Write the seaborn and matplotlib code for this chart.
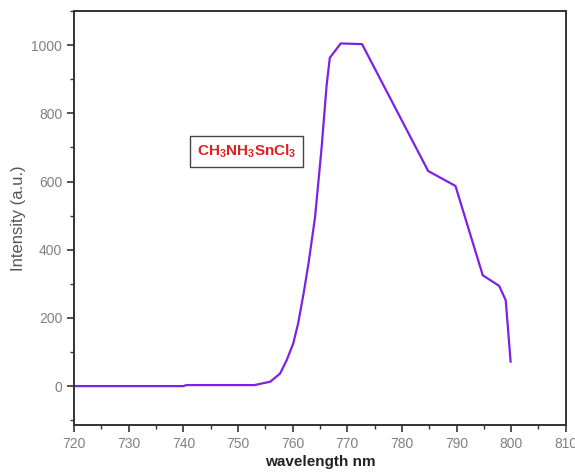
import pandas as pd
import matplotlib.pyplot as plt
import seaborn as sns
from matplotlib.ticker import MultipleLocator

# emission spectrum
wavelength = [720, 730, 740, 740.5, 753, 755.9, 757.7, 758.9, 760.1, 761.0, 762.0,
              762.9, 764.1, 765.3, 766.2, 766.8, 768.8, 772.7, 784.8, 789.8, 794.8,
              797.8, 799.0, 799.9]
intensity = [0, 0, 0, 3, 3, 13, 37, 76, 125, 184, 272,
             360, 496, 700, 880, 963, 1005, 1003, 631, 587, 325,
             294, 252, 71]

x_ticks = [720, 730, 740, 750, 760, 770, 780, 790, 800, 810]
y_ticks = [0, 200, 400, 600, 800, 1000]

df = pd.DataFrame({"wavelength": wavelength, "intensity": intensity})

sns.set_style("ticks")
plt.rcParams["font.family"] = ["Liberation Sans", "DejaVu Sans"]
plt.rcParams["mathtext.default"] = "regular"

fig = plt.figure(figsize=(5.75, 4.72), dpi=100)
ax = fig.add_axes([0.129, 0.0996, 0.855, 0.877])

sns.lineplot(data=df, x="wavelength", y="intensity", ax=ax,
             color="#7B22E6", linewidth=1.6, sort=False)

ax.set_xlim(720, 810)
ax.set_ylim(-114, 1100)
ax.set_xticks(x_ticks)
ax.set_yticks(y_ticks)
ax.xaxis.set_minor_locator(MultipleLocator(5))
ax.yaxis.set_minor_locator(MultipleLocator(100))

for side in ax.spines:
    ax.spines[side].set_linewidth(1.4)
    ax.spines[side].set_color("#333333")

ax.tick_params(which="major", direction="out", length=5, width=1.2,
               colors="#333333", labelcolor="#808080", labelsize=10)
ax.tick_params(which="minor", direction="out", length=3, width=1.0, colors="#333333")

ax.set_xlabel("wavelength nm", fontsize=11, fontweight="bold", color="#222222",
              labelpad=3)
ax.set_ylabel("Intensity (a.u.)", fontsize=12, color="#555555")

ax.text(751.5, 689, r"CH$_3$NH$_3$SnCl$_3$", color="#E02020", fontsize=11,
        fontweight="bold", ha="center", va="center",
        bbox=dict(boxstyle="square,pad=0.45", facecolor="white",
                  edgecolor="#444444", linewidth=1.0))

plt.savefig("out.png", dpi=100)
plt.close()
